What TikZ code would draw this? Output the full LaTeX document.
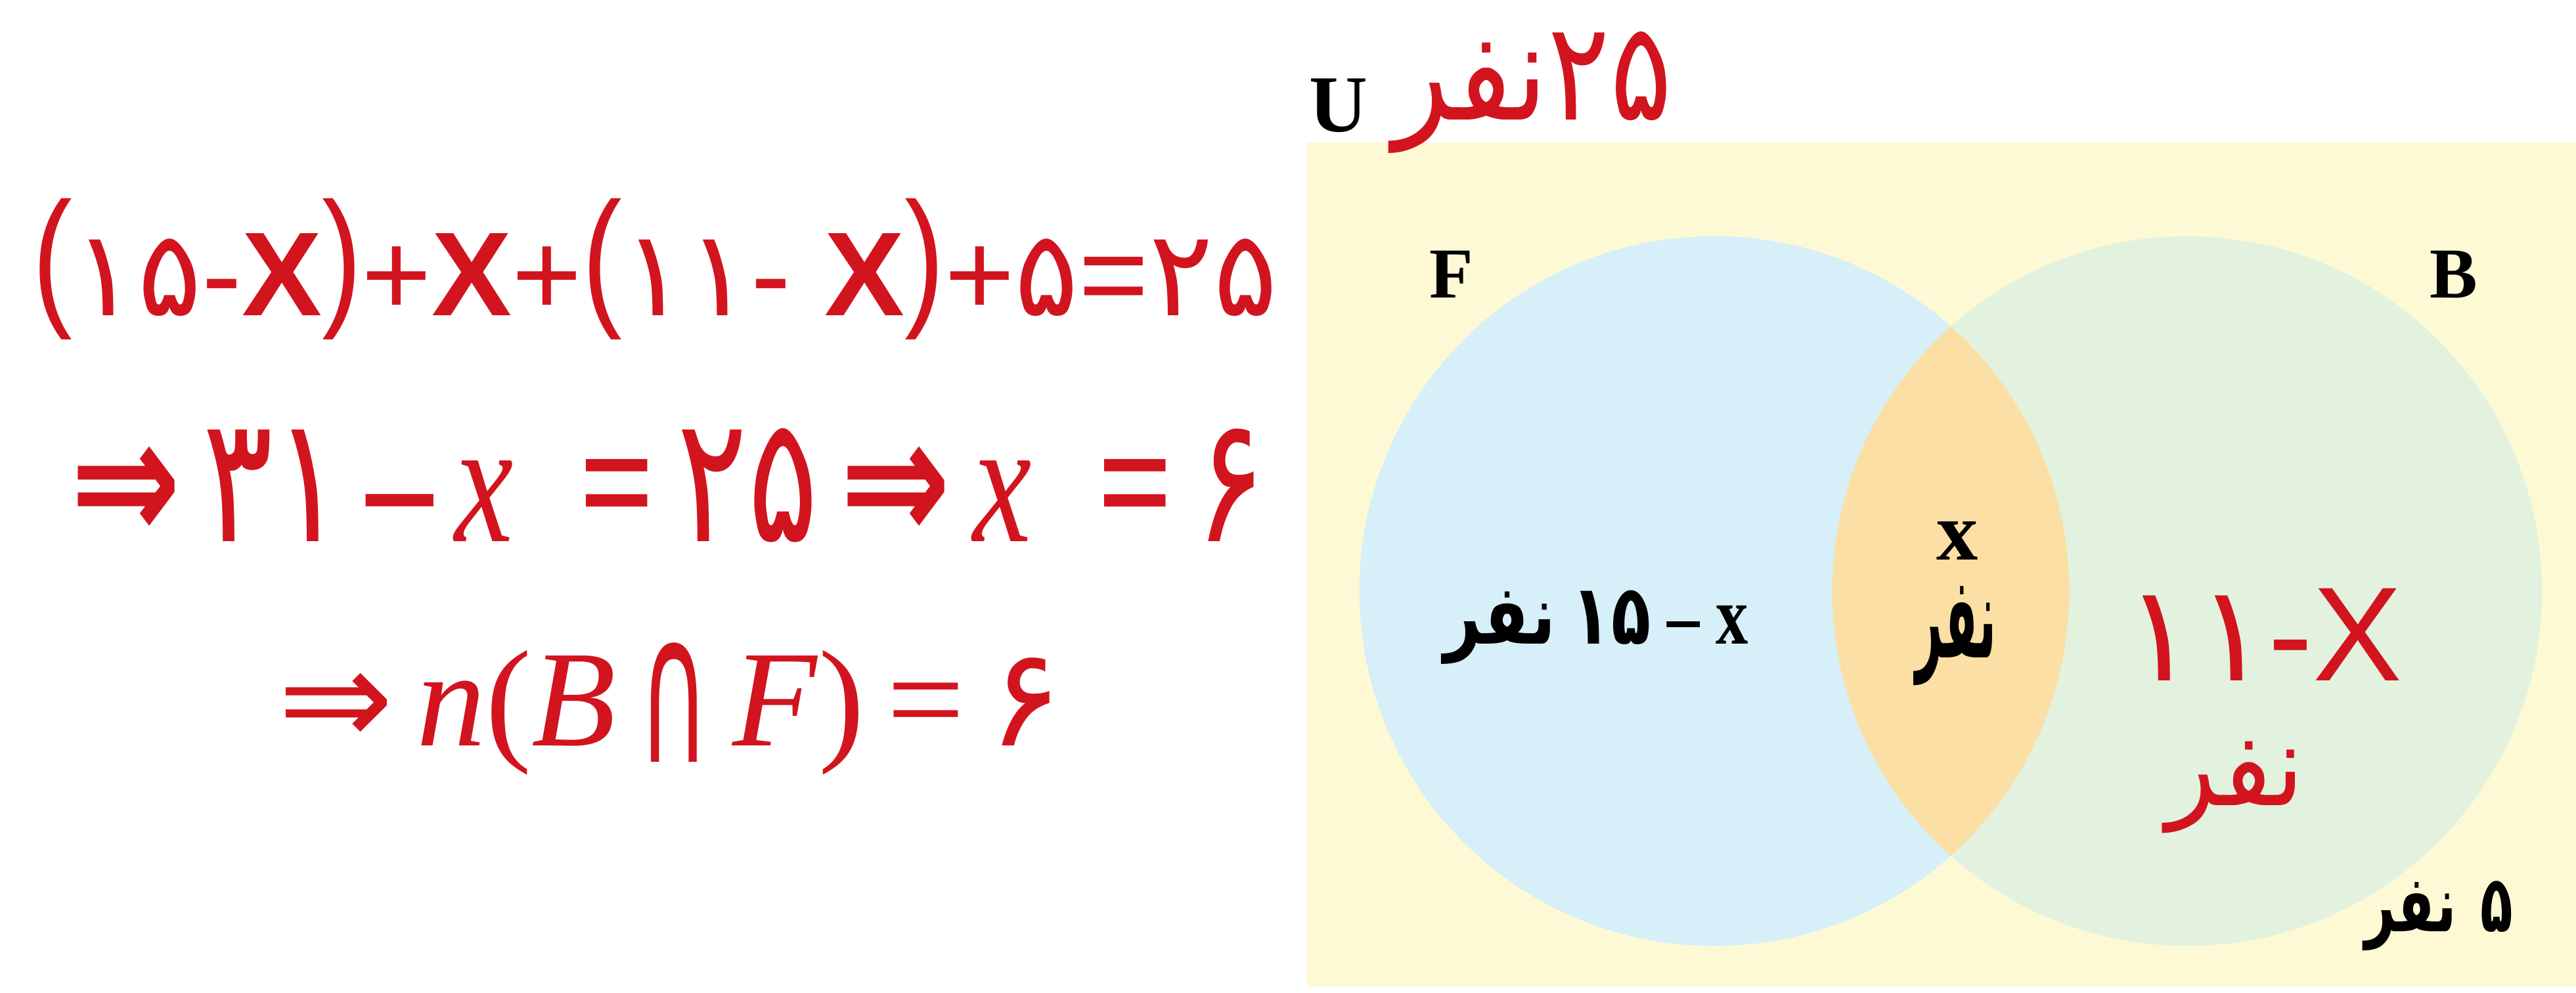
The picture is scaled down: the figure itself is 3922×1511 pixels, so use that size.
\documentclass[tikz,border=0pt]{standalone}
\usepackage{fontspec}
\usepackage{graphicx}
\setmainfont{Liberation Serif}
\newfontfamily\fa[Script=Arabic]{DejaVu Sans}
\newfontfamily\lsans{Liberation Sans}
\TeXXeTstate=1
\definecolor{bgyel}{HTML}{FEF9D5}
\definecolor{fblue}{HTML}{D6EFF8}
\definecolor{bgreen}{HTML}{E2F2DF}
\definecolor{lenscol}{HTML}{FBDFA4}
\definecolor{myred}{HTML}{D2141E}
\newcommand\fsz[1]{\fontsize{#1pt}{#1pt}\selectfont}
\newcommand\bigpar[1]{\raisebox{0.06em}{\scalebox{1}[1.27]{#1}}}
\newcommand\capsym{\smash{\raisebox{-0.12em}{\scalebox{0.7}[1.5]{\fa ∩}}}}
\begin{document}
\begin{tikzpicture}[x=0.01cm,y=-0.01cm,every node/.style={inner sep=0pt,outer sep=0pt}]
\useasboundingbox (0,0) rectangle (3922,1511);
\fill[white] (0,0) rectangle (3922,1511);
% universe
\fill[bgyel] (1990,217) rectangle (3922,1503);
\fill[fblue] (2610,900) circle (5.4cm);
\fill[bgreen] (3330,900) circle (5.4cm);
\begin{scope}
\clip (2610,900) circle (5.4cm);
\fill[lenscol] (3330,900) circle (5.4cm);
\end{scope}
% labels
\node[anchor=base west,font=\bfseries\fsz{35}] (U) at (1993,200) {U};
\node[anchor=base west,text=myred,font=\fsz{54}] (total) at (2121,182) {\scalebox{0.93}[1.1]{{\fa\beginR نفر\endR}{\fa ۲۵}}};
\node[anchor=base west,font=\bfseries\fsz{31}] (F) at (2176,453) {F};
\node[anchor=base west,font=\bfseries\fsz{31}] (B) at (3699,453) {B};
\node[anchor=base,font=\bfseries\fsz{36}] (lx) at (2980,852) {x};
\node[font=\bfseries\fsz{34}] (ln) at (2978,968) {\scalebox{0.6}[1.45]{\fa\beginR نفر\endR}};
\node[anchor=base,font=\bfseries\fsz{36}] (fl) at (2430,980) {\scalebox{0.78}[1]{{\fa\beginR نفر\endR} {\fa ۱۵} – x}};
\node[anchor=base,text=myred,font=\fsz{58}] (bl) at (3446,1036) {{\fa ۱۱}{\lsans -X}};
\node[text=myred,font=\fsz{58}] (bn) at (3403,1226) {\scalebox{0.77}[0.85]{\smash{\fa\beginR نفر\endR}}};
\node[anchor=base,font=\bfseries\fsz{34}] (out) at (3713,1418) {\scalebox{0.68}[1]{{\fa\beginR نفر\endR}\hspace{0.45em}{\fa ۵}}};
% equations
\node[anchor=base west,text=myred] (eq1) at (50,480) {\resizebox{189.5mm}{17.8mm}{\fsz{50}\lsans\bigpar{(}{\fa ۱۵}-{\bfseries X}\bigpar{)}+{\bfseries X}+\bigpar{(}{\fa ۱۱}- {\bfseries X}\bigpar{)}+{\fa ۵}={\fa ۲۵}}};
\node[anchor=base west,text=myred] (eq2) at (107,824) {\resizebox{181.9mm}{17.2mm}{\fsz{50}{\fa\bfseries ⇒}\,{\fa ۳۱}\,{\bfseries –}\,\textit{x}\ \ {\bfseries =}\,{\fa ۲۵}\,{\fa\bfseries ⇒}\,\textit{x}\ \ {\bfseries =}\,{\fa ۶}}};
\node[anchor=base west,text=myred] (eq3) at (423,1135) {\resizebox{119.4mm}{14.5mm}{\fsz{50}{\fa ⇒}\,\textit{n}(\textit{B}\,\capsym\,\textit{F})\,=\,{\fa ۶}}};
\end{tikzpicture}
\end{document}
